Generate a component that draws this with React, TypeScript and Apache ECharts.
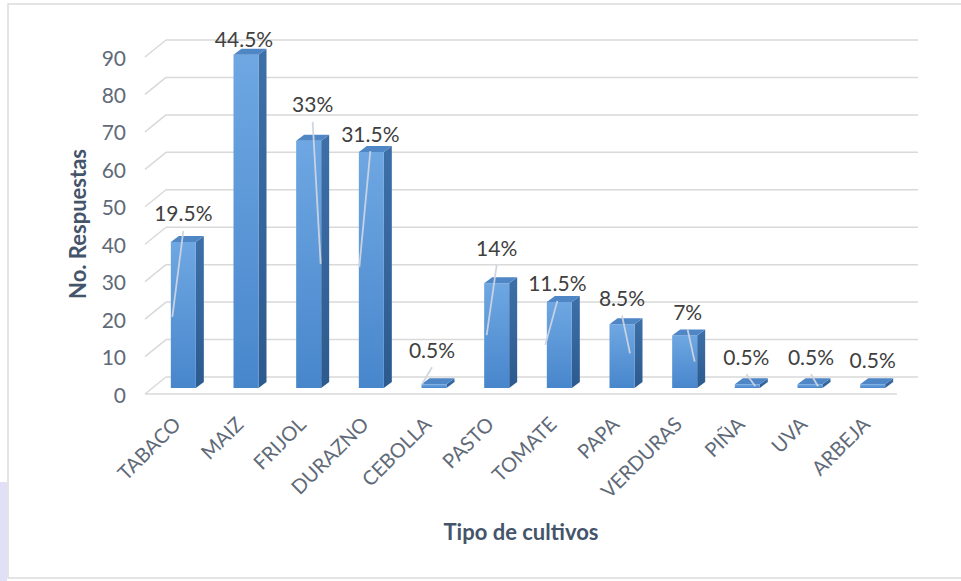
import React, { useEffect, useRef } from "react";
import * as echarts from "echarts";

// ---- data ----
const categories = ["TABACO", "MAIZ", "FRIJOL", "DURAZNO", "CEBOLLA", "PASTO", "TOMATE", "PAPA", "VERDURAS", "PIÑA", "UVA", "ARBEJA"];
const responses = [39, 89, 66, 63, 1, 28, 23, 17, 14, 1, 1, 1];
const percentLabels = ["19.5%", "44.5%", "33%", "31.5%", "0.5%", "14%", "11.5%", "8.5%", "7%", "0.5%", "0.5%", "0.5%"];
const yTicks = [0, 10, 20, 30, 40, 50, 60, 70, 80, 90];
const xTitle = "Tipo de cultivos";
const yTitle = "No. Respuestas";

// ---- layout / style (not data) ----
const labelLift = [29, 16, 37, 19, 35, 36, 19, 27, 24, 28, 28, 25];
const labelShiftX = [0, -2, 4, -1, -2, 0, -2, 0, 3, -1, 1, 0];
const leaders: Array<[number, number] | null> = [
  [-11, 86], null, [8, 142], [-11, 116], [-10, 17], [-10, 70],
  [-12, 44], [8, 38], [7, 32], [9, 12], [7, 12], null,
];
const GX = 21, GY = -17; // back wall offset
const BOX = 7, BOY = -6; // bar offset inside depth
const BW = 25, DX = 8, DY = 6; // bar size / depth
const FONT = "Lato, 'Open Sans', sans-serif";

export default function App() {
  const ref = useRef<HTMLDivElement>(null);
  useEffect(() => {
    const chart = echarts.init(ref.current!, undefined, { renderer: "svg" });
    const frontGrad = new echarts.graphic.LinearGradient(0, 0, 0, 1, [
      { offset: 0, color: "#6ea7e2" },
      { offset: 1, color: "#4886cc" },
    ]);
    const sideGrad = new echarts.graphic.LinearGradient(0, 0, 0, 1, [
      { offset: 0, color: "#3d70a9" },
      { offset: 1, color: "#2c5a8e" },
    ]);
    const topColor = "#4f86c6";

    const option: any = {
      animation: false,
      backgroundColor: "#ffffff",
      grid: { left: 145, right: 64, top: 57, bottom: 187 },
      xAxis: {
        type: "category",
        data: categories,
        axisLine: { show: false },
        axisTick: { show: false },
        axisLabel: { rotate: 45, margin: 26, fontSize: 20, color: "#5f6a78", fontFamily: FONT, interval: 0 },
      },
      yAxis: {
        type: "value",
        min: 0,
        max: 90,
        interval: 10,
        axisLine: { show: false },
        axisTick: { show: false },
        splitLine: { show: false },
        axisLabel: { fontSize: 21, color: "#5f6a78", fontFamily: FONT, margin: 19 },
      },
      graphic: [
        { type: "rect", z: -10, shape: { x: 8, y: 4, width: 960, height: 574 }, style: { fill: "none", stroke: "#dcdcdc", lineWidth: 1.5 } },
        { type: "rect", z: -10, shape: { x: 0, y: 482, width: 7, height: 99 }, style: { fill: "#e2e0f6" } },
        { type: "text", x: 521, y: 531, style: { text: xTitle, font: `bold 22px ${FONT}`, fill: "#44546a", align: "center", verticalAlign: "middle" } },
        { type: "text", x: 77, y: 224, rotation: Math.PI / 2, style: { text: yTitle, font: `bold 22px ${FONT}`, fill: "#44546a", align: "center", verticalAlign: "middle" } },
      ],
      series: [
        {
          type: "custom",
          z: 1,
          data: yTicks.map((v) => [0, v]),
          renderItem: (params: any, api: any) => {
            const cs = params.coordSys;
            const v = api.value(1);
            const y = api.coord([0, v])[1];
            const st = { stroke: "#d9d9d9", lineWidth: 1.5 };
            const children: any[] = [
              { type: "line", shape: { x1: cs.x + GX, y1: y + GY, x2: cs.x + cs.width + GX, y2: y + GY }, style: st },
              { type: "line", shape: { x1: cs.x, y1: y, x2: cs.x + GX, y2: y + GY }, style: st },
            ];
            if (v === 0) {
              children.push({ type: "line", shape: { x1: cs.x, y1: y, x2: cs.x + cs.width, y2: y }, style: st });
            }
            return { type: "group", children };
          },
        },
        {
          type: "custom",
          z: 2,
          data: categories.map((c, i) => [i, responses[i]]),
          renderItem: (params: any, api: any) => {
            const i = params.dataIndex;
            const idx = api.value(0);
            const v = api.value(1);
            const top = api.coord([idx, v]);
            const base = api.coord([idx, 0]);
            const cx = top[0] + BOX;
            const yT = top[1] + BOY;
            const yB = base[1] + BOY;
            const l = cx - BW / 2;
            const r = cx + BW / 2;
            const lx = cx + labelShiftX[i];
            const ly = yT - labelLift[i];
            const children: any[] = [
              { type: "polygon", shape: { points: [[r, yT], [r + DX, yT - DY], [r + DX, yB - DY], [r, yB]] }, style: { fill: sideGrad } },
              { type: "rect", shape: { x: l, y: yT, width: BW, height: yB - yT }, style: { fill: frontGrad } },
              { type: "polygon", shape: { points: [[l, yT], [l + DX, yT - DY], [r + DX, yT - DY], [r, yT]] }, style: { fill: topColor } },
            ];
            const ld = leaders[i];
            if (ld) {
              const sy = ly + 18;
              children.push({ type: "line", z2: 5, shape: { x1: lx, y1: sy, x2: lx + ld[0], y2: sy + ld[1] }, style: { stroke: "rgba(205,212,224,0.95)", lineWidth: 1.8 } });
            }
            children.push({
              type: "text",
              z2: 10,
              x: lx,
              y: ly,
              style: { text: percentLabels[i], fill: "#404040", font: `21px ${FONT}`, align: "center", verticalAlign: "middle" },
            });
            return { type: "group", children };
          },
        },
      ],
    };
    chart.setOption(option);
    return () => chart.dispose();
  }, []);
  return <div ref={ref} style={{ position: "fixed", left: 0, top: 0, width: 961, height: 581 }} />;
}
